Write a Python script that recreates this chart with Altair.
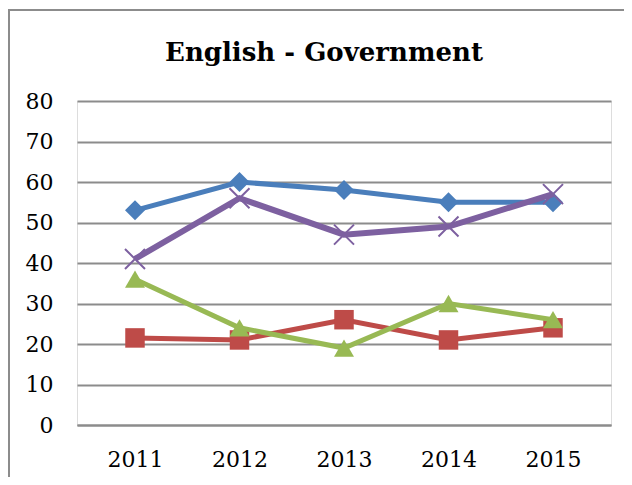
import altair as alt
import pandas as pd

years = ["2011", "2012", "2013", "2014", "2015"]
blue_vals = [53, 60, 58, 55, 55]
red_vals = [21.5, 21, 26, 21, 24]
green_vals = [36, 24, 19, 30, 26]
purple_vals = [41, 56, 47, 49, 57]

series_names = ["Series1", "Series2", "Series3", "Series4"]
series_vals = [blue_vals, red_vals, green_vals, purple_vals]
colors = ["#4a7ebb", "#be4b48", "#98b954", "#7d60a0"]
shapes = ["diamond", "square", "triangle-up", "M-1,-1L1,1M1,-1L-1,1"]
line_widths = [5, 5, 5, 6]
title_text = "English - Government"

x_enc = alt.X("year:N", sort=years,
              scale=alt.Scale(type="point", padding=0.555),
              axis=alt.Axis(title=None, labelAngle=0, ticks=False, domain=True,
                            domainColor="#8c8c8c", domainWidth=2,
                            labelFont="DejaVu Serif", labelFontSize=22,
                            labelColor="#000000", labelPadding=24, grid=False))
y_enc = alt.Y("value:Q", scale=alt.Scale(domain=[0, 80], nice=False),
              axis=alt.Axis(title=None, values=list(range(0, 81, 10)), ticks=False,
                            domain=False, grid=True, gridColor="#8c8c8c", gridWidth=2,
                            labelFont="DejaVu Serif", labelFontSize=22,
                            labelColor="#000000", labelPadding=24))

one = pd.DataFrame({"t": [title_text]})
border_top = alt.Chart(one).mark_rule(stroke="#8c8c8c", strokeWidth=2).encode(
    x=alt.value(-69), x2=alt.value(547), y=alt.value(-91))
border_left = alt.Chart(one).mark_rule(stroke="#8c8c8c", strokeWidth=2).encode(
    x=alt.value(-68), y=alt.value(-92), y2=alt.value(384))
title = alt.Chart(one).mark_text(
    font="DejaVu Serif", fontSize=26, fontWeight="bold", color="#000000",
    align="center", baseline="alphabetic"
).encode(text="t:N", x=alt.value(247), y=alt.value(-40))

layers = [border_top, border_left, title]
for name, vals, col, shp, lw in zip(series_names, series_vals, colors, shapes, line_widths):
    df = pd.DataFrame({"year": years, "value": vals, "series": name})
    base = alt.Chart(df)
    line = base.mark_line(color=col, strokeWidth=lw).encode(x=x_enc, y=y_enc)
    if shp.startswith("M"):
        pts = base.mark_point(shape=shp, size=400, filled=False, stroke=col,
                              strokeWidth=2, opacity=1).encode(x=x_enc, y=y_enc)
    else:
        pts = base.mark_point(shape=shp, size=400 if shp != "square" else 380,
                              filled=True, fill=col, opacity=1).encode(x=x_enc, y=y_enc)
    layers += [line, pts]

chart = alt.layer(*layers).properties(
    width=534, height=324,
    autosize=alt.AutoSizeParams(type="none"),
    padding={"left": 69, "top": 93, "right": 13, "bottom": 52},
).configure_view(stroke=None).configure(background="#ffffff")

chart.save("out.html", embed_options={"renderer": "svg", "actions": False})
